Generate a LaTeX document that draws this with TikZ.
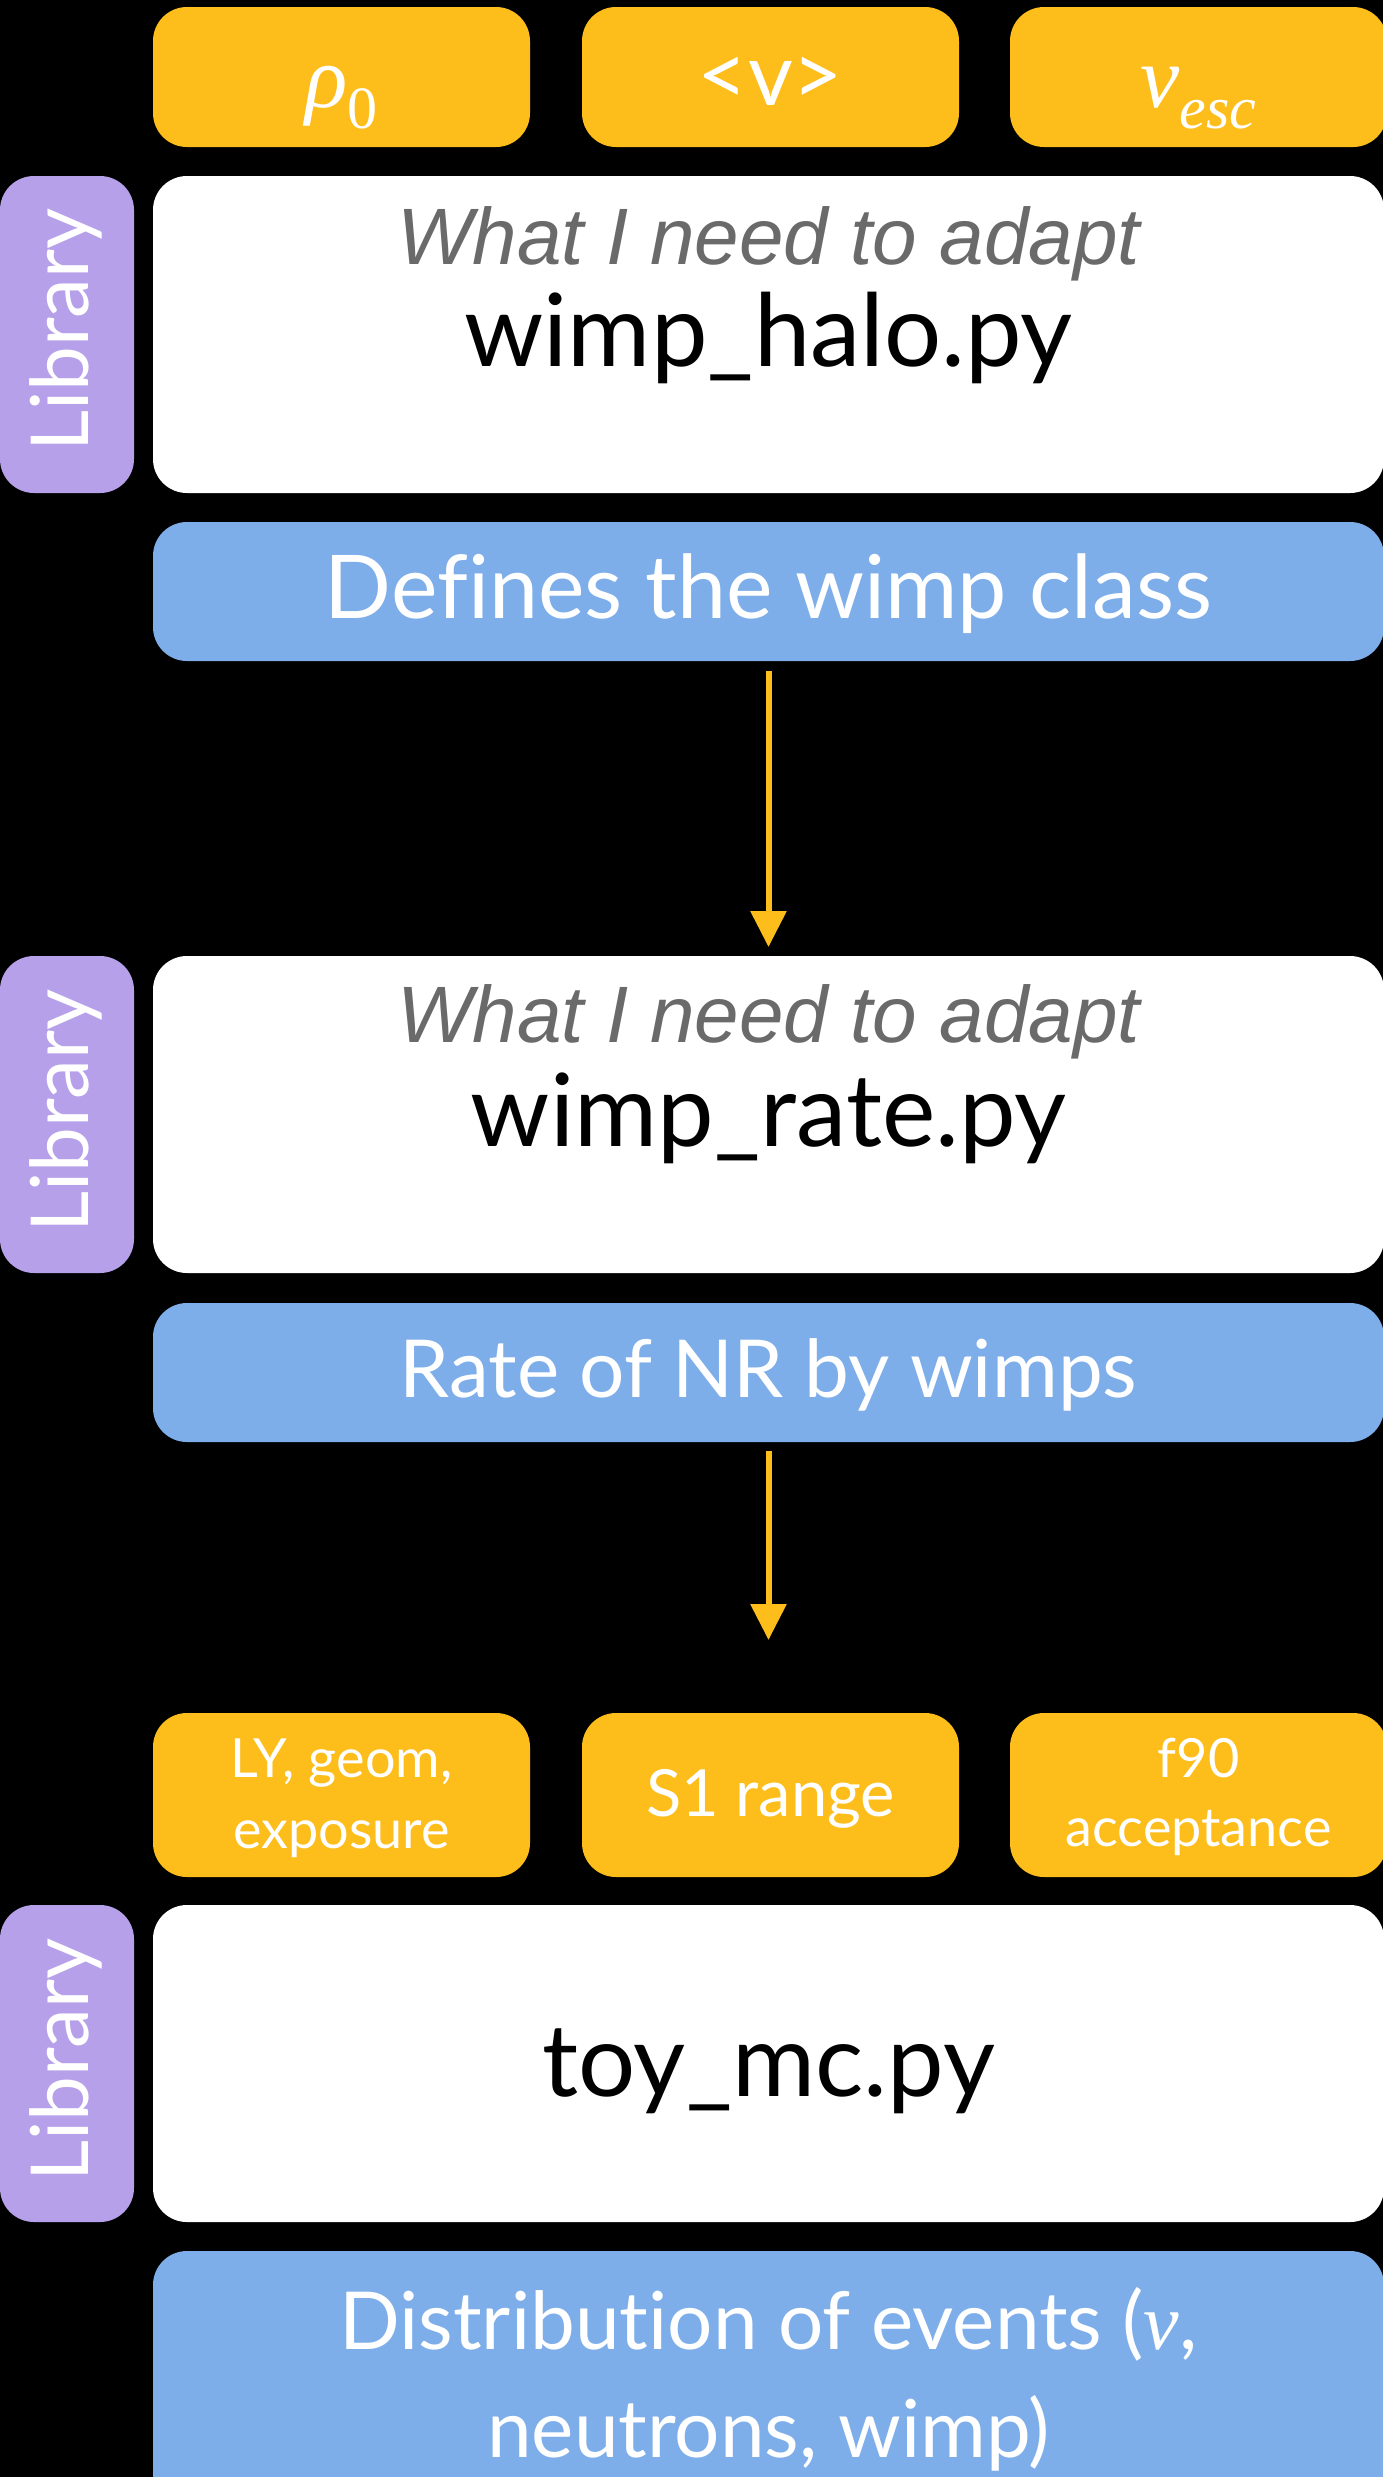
\documentclass[tikz,border=0pt]{standalone}
\usepackage{fontspec}
\setmainfont{Lato}[Ligatures={NoCommon}]
\newfontfamily\helv{Liberation Sans}
\newfontfamily\tms{Liberation Serif}
\usetikzlibrary{arrows.meta}
\definecolor{orng}{HTML}{FDBD1A}
\definecolor{blu}{HTML}{7DAEEA}
\definecolor{purp}{HTML}{B6A0EA}
\definecolor{gry}{HTML}{6A6A6A}
\tikzset{
  box/.style={rounded corners=34pt, inner sep=0pt, outer sep=0pt, anchor=north west, draw=none},
  obox/.style={box, fill=orng, minimum width=377pt, minimum height=140pt},
  obox2/.style={box, fill=orng, minimum width=377pt, minimum height=164pt},
  wbox/.style={box, fill=white, minimum width=1231pt, minimum height=317pt},
  bbox/.style={box, fill=blu, minimum width=1231pt, minimum height=139pt},
  pbox/.style={box, fill=purp, minimum width=134pt, minimum height=317pt},
  libtxt/.style={rotate=90, anchor=base, text=white, inner sep=0pt, font=\fontsize{80}{90}\selectfont},
  adapt/.style={anchor=base, text=gry, inner sep=0pt, font=\helv\itshape\fontsize{80}{96}\selectfont},
  fname/.style={anchor=base, text=black, inner sep=0pt, font=\fontsize{101}{110}\selectfont},
  btxt/.style={anchor=base, text=white, inner sep=0pt, font=\fontsize{84}{108}\selectfont},
  otxt/.style={anchor=base, text=white, inner sep=0pt, align=center},
  arrline/.style={draw=orng, line width=6pt, -{Triangle[length=36pt,width=35pt]}}
}
\begin{document}
\begin{tikzpicture}[x=1pt,y=-1pt]
\fill[black] (0,0) rectangle (1383,2477);
\useasboundingbox (0,0) rectangle (1383,2477);
\clip (0,0) rectangle (1383,2477);

% top parameter boxes
\node[obox] (o1) at (153,7) {};
\node[obox] (o2) at (582,7) {};
\node[obox] (o3) at (1010,7) {};
\node[otxt] (o1t) at (o1.center |- 0,107) {\tms\itshape\fontsize{88}{96}\selectfont ρ\raisebox{-21pt}{\upshape\fontsize{60}{60}\selectfont 0}};
\node[otxt] (o2t) at (o2.center |- 0,105) {\fontsize{87}{96}\selectfont <v>};
\node[otxt] (o3t) at (o3.center |- 0,107) {\tms\itshape\fontsize{88}{96}\selectfont v\raisebox{-21pt}{\fontsize{60}{60}\selectfont esc}};

% library 1
\node[pbox] (p1) at (0,176) {};
\node[libtxt] (p1t) at (88,330) {Library};
\node[wbox] (w1) at (153,176) {};
\node[adapt] (w1a) at (w1.center |- 0,264) {What I need to adapt};
\node[fname] (w1f) at (w1.center |- 0,366) {wimp\_halo.py};
\node[bbox] (b1) at (153,522) {};
\node[btxt, font=\fontsize{88}{108}\selectfont] (b1t) at (b1.center |- 0,618) {Defines the wimp class};

% library 2
\node[pbox] (p2) at (0,956) {};
\node[libtxt] (p2t) at (88,1111) {Library};
\node[wbox] (w2) at (153,956) {};
\node[adapt] (w2a) at (w2.center |- 0,1042) {What I need to adapt};
\node[fname] (w2f) at (w2.center |- 0,1146) {wimp\_rate.py};
\node[bbox] (b2) at (153,1303) {};
\node[btxt, font=\fontsize{80}{108}\selectfont] (b2t) at (b2.center |- 0,1397) {Rate of NR by wimps};

% arrows
\draw[arrline, shorten <=10pt, shorten >=9pt] (b1.south) -- (w2.north);
\coordinate (a2end) at (768.5,1640);
\draw[arrline, shorten <=9pt] (b2.south) -- (a2end);

% bottom parameter boxes
\node[obox2] (q1) at (153,1713) {};
\node[obox2] (q2) at (582,1713) {};
\node[obox2] (q3) at (1010,1713) {};
\node[otxt, font=\fontsize{54}{71}\selectfont] (q1t) at (q1.center |- 0,1848) {LY, geom,\\exposure};
\node[otxt, font=\fontsize{65}{71}\selectfont] (q2t) at (q2.center |- 0,1816) {S1 range};
\node[otxt, font=\fontsize{54}{69}\selectfont] (q3t) at (q3.center |- 0,1846) {f90\\acceptance};

% library 3
\node[pbox] (p3) at (0,1905) {};
\node[libtxt] (p3t) at (88,2060) {Library};
\node[wbox] (w3) at (153,1905) {};
\node[fname] (w3f) at (w3.center |- 0,2096) {toy\_mc.py};
\node[bbox, minimum height=300pt] (b3) at (153,2251) {};
\node[btxt, align=center, font=\fontsize{80}{108}\selectfont] (b3t) at (b3.center |- 0,2457) {Distribution of events ({\tms\itshape ν},\\neutrons, wimp)};
\end{tikzpicture}
\end{document}
